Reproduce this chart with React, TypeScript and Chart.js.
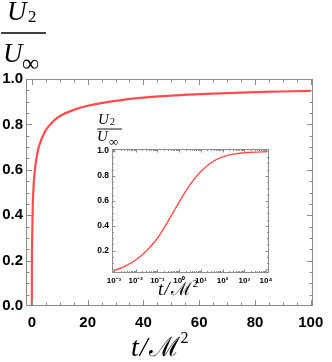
import React, { useEffect, useRef } from "react";
import { Chart, registerables } from "chart.js";
Chart.register(...registerables);

// ---- data ----
const mainT = [0, 0.001, 0.01, 0.05, 0.1, 0.3, 0.5, 1, 2, 3, 4, 5, 7.5, 10, 15, 20, 30, 40, 50, 60, 70, 80, 90, 100];
const mainU = [0, 0.04, 0.125, 0.24, 0.29, 0.43, 0.5, 0.59, 0.675, 0.72, 0.75, 0.775, 0.812, 0.836, 0.864, 0.882, 0.904, 0.918, 0.927, 0.933, 0.938, 0.942, 0.945, 0.948];

const insetT = [0.001, 0.00316, 0.01, 0.0316, 0.1, 0.316, 1, 3.16, 10, 31.6, 100, 316, 1000, 3160, 10000];
const insetU = [0.04, 0.075, 0.125, 0.2, 0.3, 0.44, 0.59, 0.73, 0.835, 0.91, 0.953, 0.975, 0.986, 0.991, 0.994];

const mainXTicks = [0, 20, 40, 60, 80, 100];
const mainYTicks = [0, 0.2, 0.4, 0.6, 0.8, 1.0];
const insetXTicks = [0.001, 0.01, 0.1, 1, 10, 100, 1000, 10000];
const insetXLabels = ["10⁻³", "10⁻²", "10⁻¹", "10⁰", "10¹", "10²", "10³", "10⁴"];
const insetYTicks = [0.2, 0.4, 0.6, 0.8, 1.0];

const RED = "#ff4d4d";
const FRAME = "#8c8c8c";
const SERIF = "'Liberation Serif', 'DejaVu Serif', serif";
const SANS = "'Liberation Sans', Arial, sans-serif";

// x: absolute start; dx: gap after previous segment's end
type Seg = { text: string; font: string; y: number; x?: number; dx?: number; w?: number };

function textPlugin(id: string, segs: Seg[], line?: { x1: number; x2: number; y: number; w: number }) {
  return {
    id,
    afterDraw(chart: any) {
      const ctx = chart.ctx;
      ctx.save();
      ctx.fillStyle = "#000";
      ctx.textBaseline = "alphabetic";
      ctx.textAlign = "left";
      let cur = 0;
      for (const s of segs) {
        ctx.font = s.font;
        const x = s.x !== undefined ? s.x : cur + (s.dx || 0);
        const m = ctx.measureText(s.text).width;
        if (s.w && m > s.w) {
          ctx.save();
          ctx.translate(x, s.y);
          ctx.scale(s.w / m, 1);
          ctx.fillText(s.text, 0, 0);
          ctx.restore();
          cur = x + s.w;
        } else {
          ctx.fillText(s.text, x, s.y);
          cur = x + m;
        }
      }
      if (line) {
        ctx.strokeStyle = "#000";
        ctx.lineWidth = line.w;
        ctx.beginPath();
        ctx.moveTo(line.x1, line.y);
        ctx.lineTo(line.x2, line.y);
        ctx.stroke();
      }
      ctx.restore();
    },
  };
}

function framePlugin(id: string, xMinor: number[], yMinor: number[], majLen: number, minLen: number) {
  return {
    id,
    afterDatasetsDraw(chart: any) {
      const { ctx, chartArea: a, scales } = chart;
      const xs = scales.x;
      const ys = scales.y;
      ctx.save();
      ctx.strokeStyle = FRAME;
      ctx.lineWidth = 1;
      ctx.beginPath();
      const xt = (v: number, len: number) => {
        const p = Math.round(xs.getPixelForValue(v)) + 0.5;
        if (p < a.left || p > a.right) return;
        ctx.moveTo(p, a.bottom);
        ctx.lineTo(p, a.bottom - len);
        ctx.moveTo(p, a.top);
        ctx.lineTo(p, a.top + len);
      };
      const yt = (v: number, len: number) => {
        const p = Math.round(ys.getPixelForValue(v)) + 0.5;
        if (p < a.top || p > a.bottom) return;
        ctx.moveTo(a.left, p);
        ctx.lineTo(a.left + len, p);
        ctx.moveTo(a.right, p);
        ctx.lineTo(a.right - len, p);
      };
      xs.ticks.forEach((t: any) => xt(t.value, majLen));
      xMinor.forEach((v) => xt(v, minLen));
      ys.ticks.forEach((t: any) => yt(t.value, majLen));
      yMinor.forEach((v) => yt(v, minLen));
      ctx.stroke();
      ctx.strokeRect(Math.round(a.left) + 0.5, Math.round(a.top) + 0.5, Math.round(a.right - a.left) - 1, Math.round(a.bottom - a.top) - 1);
      ctx.restore();
    },
  };
}

function range(a: number, b: number, s: number) {
  const out: number[] = [];
  for (let v = a; v <= b + 1e-9; v += s) out.push(Math.round(v * 1000) / 1000);
  return out;
}

function logMinor() {
  const out: number[] = [];
  for (let e = -4; e <= 4; e++) for (let m = 2; m <= 9; m++) out.push(m * Math.pow(10, e));
  return out;
}

export default function App() {
  const mainRef = useRef<HTMLCanvasElement>(null);
  const insetRef = useRef<HTMLCanvasElement>(null);

  useEffect(() => {
    document.body.style.margin = "0";
    const main = new Chart(mainRef.current!, {
      type: "line",
      data: {
        datasets: [
          {
            data: mainT.map((t, i) => ({ x: t, y: mainU[i] })),
            borderColor: RED,
            borderWidth: 2.2,
            pointRadius: 0,
            cubicInterpolationMode: "monotone",
          },
        ],
      },
      options: {
        responsive: false,
        animation: false,
        events: [],
        layout: { padding: { top: 79, right: 19, left: 0, bottom: 0 } },
        plugins: { legend: { display: false }, tooltip: { enabled: false } },
        scales: {
          x: {
            type: "linear",
            min: -2.1,
            max: 100.8,
            afterBuildTicks: (s: any) => {
              s.ticks = mainXTicks.map((v) => ({ value: v }));
            },
            afterFit: (s: any) => {
              s.height = 56;
            },
            grid: { display: false, drawTicks: false },
            border: { display: false },
            ticks: {
              padding: 8,
              maxRotation: 0,
              color: "#000",
              font: { family: SANS, size: 15, weight: "bold" },
              callback: (v: any) => String(v),
            },
          },
          y: {
            type: "linear",
            min: 0,
            max: 1.0,
            afterBuildTicks: (s: any) => {
              s.ticks = mainYTicks.map((v) => ({ value: v }));
            },
            afterFit: (s: any) => {
              s.width = 26;
            },
            grid: { display: false, drawTicks: false },
            border: { display: false },
            ticks: {
              padding: 3,
              color: "#000",
              font: { family: SANS, size: 15, weight: "bold" },
              callback: (v: any) => Number(v).toFixed(1),
            },
          },
        },
      },
      plugins: [
        framePlugin("mainFrame", range(0, 100, 5), range(0, 1, 0.05), 6, 3.5),
        textPlugin(
          "mainTitles",
          [
            { text: "U", font: `italic 27px ${SERIF}`, x: 7, y: 20 },
            { text: "2", font: `17px ${SERIF}`, x: 28, y: 22 },
            { text: "U", font: `italic 27px ${SERIF}`, x: 3, y: 62 },
            { text: "∞", font: `24px ${SERIF}`, x: 22, y: 71 },
            { text: "t", font: `italic 28px ${SERIF}`, x: 131, y: 356 },
            { text: "/", font: `italic 28px ${SERIF}`, dx: 1, y: 356 },
            { text: "ℳ", font: `27px ${SERIF}`, dx: 1, y: 356, w: 32 },
            { text: "2", font: `16px ${SERIF}`, dx: 1, y: 343 },
          ],
          { x1: 1, x2: 46, y: 33, w: 1.3 }
        ),
      ],
    } as any);

    const inset = new Chart(insetRef.current!, {
      type: "line",
      data: {
        datasets: [
          {
            data: insetT.map((t, i) => ({ x: t, y: insetU[i] })),
            borderColor: RED,
            borderWidth: 1.4,
            pointRadius: 0,
            cubicInterpolationMode: "monotone",
          },
        ],
      },
      options: {
        responsive: false,
        animation: false,
        events: [],
        layout: { padding: { top: 37, right: 11, left: 0, bottom: 0 } },
        plugins: { legend: { display: false }, tooltip: { enabled: false } },
        scales: {
          x: {
            type: "logarithmic",
            min: 0.00081,
            max: 13700,
            afterBuildTicks: (s: any) => {
              s.ticks = insetXTicks.map((v) => ({ value: v }));
            },
            afterFit: (s: any) => {
              s.height = 32;
            },
            grid: { display: false, drawTicks: false },
            border: { display: false },
            ticks: {
              padding: 3,
              maxRotation: 0,
              autoSkip: false,
              color: "#000",
              font: { family: SANS, size: 8, weight: "bold" },
              callback: (v: any) => {
                const i = insetXTicks.findIndex((t) => Math.abs(Math.log10(t) - Math.log10(v)) < 1e-6);
                return i >= 0 ? insetXLabels[i] : "";
              },
            },
          },
          y: {
            type: "linear",
            min: 0.021,
            max: 1.016,
            afterBuildTicks: (s: any) => {
              s.ticks = insetYTicks.map((v) => ({ value: v }));
            },
            afterFit: (s: any) => {
              s.width = 52;
            },
            grid: { display: false, drawTicks: false },
            border: { display: false },
            ticks: {
              padding: 3,
              color: "#000",
              font: { family: SANS, size: 8.5, weight: "bold" },
              callback: (v: any) => Number(v).toFixed(1),
            },
          },
        },
      },
      plugins: [
        framePlugin("insetFrame", logMinor(), range(0.05, 1, 0.05), 3.5, 2),
        textPlugin(
          "insetTitles",
          [
            { text: "U", font: `italic 15px ${SERIF}`, x: 38, y: 12 },
            { text: "2", font: `10px ${SERIF}`, x: 50, y: 13 },
            { text: "U", font: `italic 15px ${SERIF}`, x: 37, y: 29 },
            { text: "∞", font: `13px ${SERIF}`, x: 49, y: 34 },
            { text: "t", font: `italic 19px ${SERIF}`, x: 98, y: 183 },
            { text: "/", font: `italic 19px ${SERIF}`, dx: 1, y: 183 },
            { text: "ℳ", font: `18px ${SERIF}`, dx: 1, y: 183, w: 22 },
            { text: "2", font: `11px ${SERIF}`, dx: 1, y: 175 },
          ],
          { x1: 37, x2: 62, y: 17, w: 0.9 }
        ),
      ],
    } as any);

    return () => {
      main.destroy();
      inset.destroy();
    };
  }, []);

  return (
    <div style={{ position: "relative", width: 332, height: 362, background: "#fff" }}>
      <canvas ref={mainRef} width={332} height={362} style={{ position: "absolute", left: 0, top: 0, width: 332, height: 362 }} />
      <canvas ref={insetRef} width={220} height={193} style={{ position: "absolute", left: 60, top: 112, width: 220, height: 193 }} />
    </div>
  );
}
